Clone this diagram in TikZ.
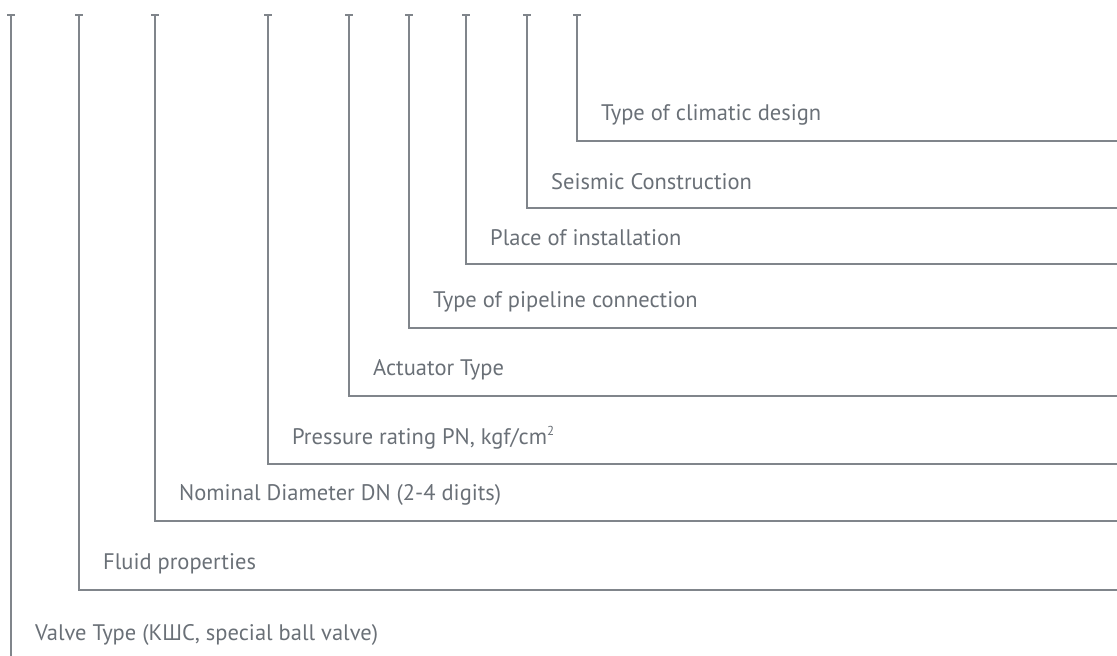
\documentclass[tikz,border=0pt]{standalone}
\usepackage{fontspec}
\setmainfont{PT Sans}
\definecolor{leadgray}{HTML}{80858B}
\definecolor{labelgray}{HTML}{6A7077}

\begin{document}
\begin{tikzpicture}[x=1pt, y=-1pt,
    lead/.style={leadgray, line width=2pt},
    codetext/.style={labelgray, anchor=west, inner sep=0pt, font=\fontsize{22.5}{26}\selectfont}]

    \useasboundingbox (0,0) rectangle (1117,656);

    % Valve type: the leftmost lead runs off the bottom
    \coordinate (top0) at (11,15);
    \coordinate (foot0) at (11,656);
    \draw[lead] (top0) -- (foot0);
    \draw[lead] ([xshift=-4pt]top0) -- ([xshift=4pt]top0);
    \node[codetext] (lbl0) at (35,635) {Valve Type (КШС, special ball valve)};

    % Other positions of the code
    \foreach \px/\py/\txt [count=\i] in {
        79/590/{Fluid properties},
        155/521/{Nominal Diameter DN (2-4 digits)},
        268/464/{Pressure rating PN, kgf/cm\raisebox{0.42em}{\fontsize{13}{13}\selectfont 2}},
        349/396/{Actuator Type},
        409/328/{Type of pipeline connection},
        466/264/{Place of installation},
        527/208/{Seismic Construction},
        577/141/{Type of climatic design}} {
        \coordinate (top\i) at (\px,15);
        \coordinate (end\i) at (1117,\py);
        \draw[lead] (top\i) |- (end\i);
        \draw[lead] ([xshift=-4pt]top\i) -- ([xshift=4pt]top\i);
        \node[codetext] (lbl\i) at (\px+24,\py-26) {\txt};
    }

\end{tikzpicture}
\end{document}
